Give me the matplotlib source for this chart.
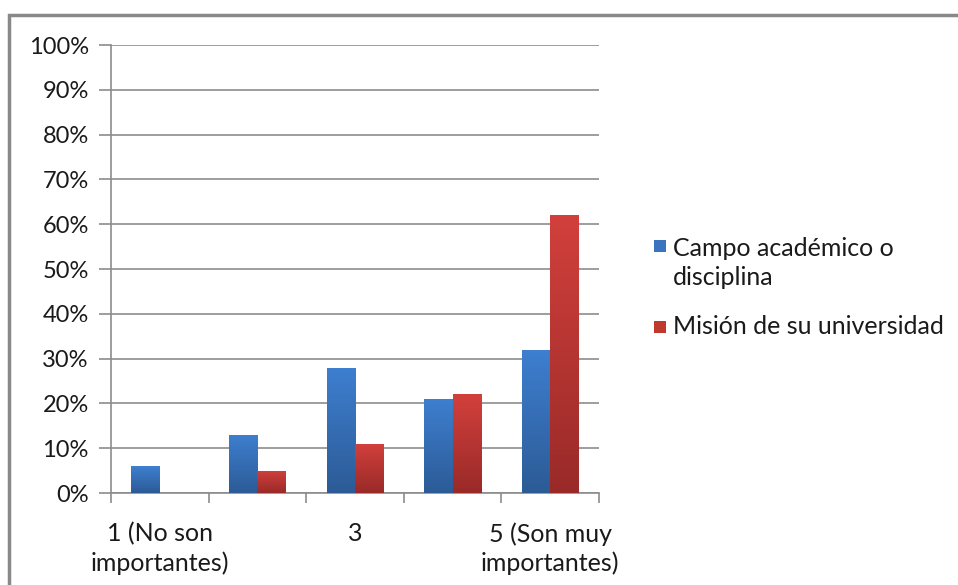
import numpy as np
import matplotlib.pyplot as plt
from matplotlib.patches import Rectangle
from matplotlib.colors import LinearSegmentedColormap

plt.rcParams['font.family'] = ['Lato', 'DejaVu Sans']

categories = ["1 (No son\nimportantes)", "", "3", "", "5 (Son muy\nimportantes)"]
campo = [6, 13, 28, 21, 32]
mision = [0, 5, 11, 22, 62]
series_names = ["Campo académico o\ndisciplina", "Misión de su universidad"]

blue_grad = ["#2c5b96", "#3e7fd0"]
red_grad = ["#992a28", "#d2403c"]

fig = plt.figure(figsize=(9.58, 5.85), dpi=100)
ax = fig.add_axes([111/958, 92/585, 488/958, 448/585])

x = np.arange(len(campo))
w = 0.29
bars1 = ax.bar(x - w/2, campo, w, color=blue_grad[1], zorder=2)
bars2 = ax.bar(x + w/2, mision, w, color=red_grad[1], zorder=2)

# vertical gradient on each bar
grad = np.linspace(0, 1, 256).reshape(-1, 1)
for bars, cols in [(bars1, blue_grad), (bars2, red_grad)]:
    cmap = LinearSegmentedColormap.from_list("g", cols)
    for b in bars:
        h = b.get_height()
        if h <= 0:
            continue
        x0 = b.get_x()
        im = ax.imshow(grad, cmap=cmap, extent=[x0, x0 + b.get_width(), 0, h],
                       origin="lower", aspect="auto", zorder=3)
        im.set_clip_path(b)

ax.set_xlim(-0.5, 4.5)
ax.set_ylim(0, 100)
ax.set_yticks(range(0, 101, 10))
ax.set_yticklabels([f"{v}%" for v in range(0, 101, 10)])
ax.yaxis.grid(True, color="#8c8c8c", linewidth=1.2, zorder=0)
ax.set_axisbelow(True)

ax.set_xticks(x)
ax.set_xticklabels(categories, linespacing=1.3)
ax.set_xticks(np.arange(-0.5, 5, 1), minor=True)
ax.tick_params(axis="x", which="major", length=0, pad=21, labelsize=18, colors="#1a1a1a")
ax.tick_params(axis="x", which="minor", length=7, color="#8c8c8c", width=1.2)
ax.tick_params(axis="y", length=9, color="#8c8c8c", width=1.2, pad=7, labelsize=17, labelcolor="#1a1a1a")

for s in ["top", "right"]:
    ax.spines[s].set_visible(False)
for s in ["left", "bottom"]:
    ax.spines[s].set_color("#8c8c8c")
    ax.spines[s].set_linewidth(1.2)

# legend drawn by hand
fig.patches.append(Rectangle((654/958, 1 - 252/585), 12/958, 12/585, transform=fig.transFigure,
                             facecolor="#3a74bf", edgecolor="none"))
fig.patches.append(Rectangle((654/958, 1 - 333/585), 12/958, 12/585, transform=fig.transFigure,
                             facecolor="#c0392f", edgecolor="none"))
fig.text(673/958, 1 - 263/585, series_names[0], fontsize=18, color="#1a1a1a",
         va="center", ha="left", linespacing=1.3)
fig.text(673/958, 1 - 327/585, series_names[1], fontsize=18, color="#1a1a1a",
         va="center", ha="left")

# chart frame
fig.patches.append(Rectangle((9/958, -0.1), 1.2, 1 - 15/585 + 0.1, transform=fig.transFigure,
                             facecolor="none", edgecolor="#898989", linewidth=2.5))

fig.savefig("out.png", dpi=100, facecolor="white")
